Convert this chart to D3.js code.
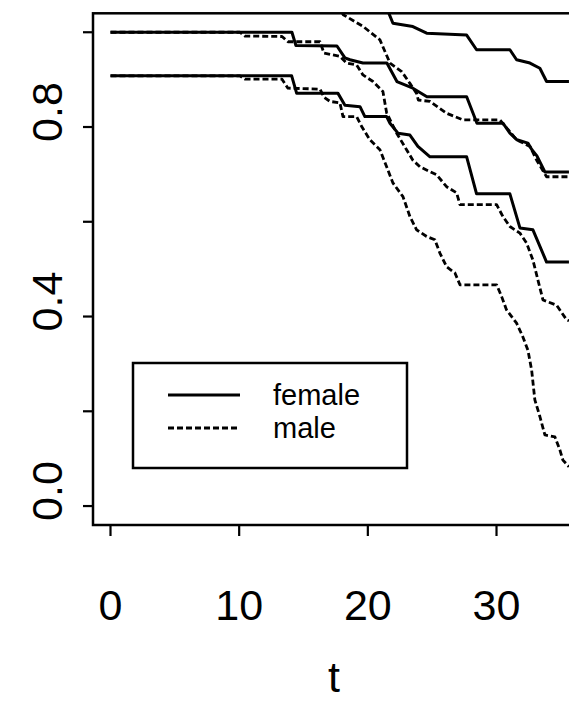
<!DOCTYPE html>
<html>
<head>
<meta charset="utf-8">
<script src="https://cdn.jsdelivr.net/npm/d3@7/dist/d3.min.js"></script>
<style>
  body { margin: 0; background: #fff; }
  svg { display: block; font-family: "Liberation Sans", Arial, Helvetica, sans-serif; }
</style>
</head>
<body>
<div id="chart"></div>
<script>
(function () {
    'use strict';

    // time axis and survival axis
    var tTicks = [0, 10, 20, 30];
    var sTicks = [0, 0.2, 0.4, 0.6, 0.8, 1.0];
    var sTickLabels = ['0.0', '', '0.4', '', '0.8', ''];
    var legendLabels = ['female', 'male'];

    // female: estimate, lower band, upper band (solid)
    var femaleEstT = [0, 14.10, 14.41, 17.60, 18.22, 18.61, 19.62, 21.48, 22.26, 23.50, 24.59, 27.68, 28.48, 30.50, 31.04, 31.59, 32.44, 32.75, 33.14, 33.76, 35.63];
    var femaleEstS = [1.0, 1.0, 0.972, 0.971, 0.946, 0.942, 0.935, 0.935, 0.896, 0.882, 0.864, 0.864, 0.808, 0.808, 0.787, 0.773, 0.766, 0.752, 0.739, 0.705, 0.705];

    var femaleLowT = [0, 14.08, 14.47, 17.68, 18.22, 19.39, 19.77, 21.46, 21.72, 22.34, 23.27, 23.89, 24.83, 27.68, 28.45, 31.04, 31.82, 32.83, 33.89, 35.63];
    var femaleLowS = [0.908, 0.908, 0.871, 0.871, 0.846, 0.843, 0.822, 0.822, 0.808, 0.787, 0.783, 0.759, 0.737, 0.737, 0.659, 0.659, 0.587, 0.583, 0.515, 0.515];

    var femaleUpT = [21.33, 21.59, 21.95, 23.50, 24.57, 27.68, 28.45, 31.04, 31.56, 32.60, 33.37, 33.89, 35.63];
    var femaleUpS = [1.058, 1.043, 1.019, 1.012, 0.998, 0.994, 0.963, 0.963, 0.942, 0.935, 0.924, 0.896, 0.896];

    // male: estimate, lower band, upper band (dashed)
    var maleEstT = [0, 10.06, 10.45, 13.33, 13.79, 16.28, 16.59, 17.83, 18.35, 19.13, 19.62, 20.40, 21.17, 21.46, 22.24, 23.01, 23.50, 24.05, 25.35, 26.12, 26.90, 27.16, 30.01, 30.50, 31.04, 31.82, 32.34, 32.83, 33.22, 33.61, 34.67, 35.45, 35.63];
    var maleEstS = [1.0, 1.0, 0.992, 0.991, 0.980, 0.980, 0.956, 0.949, 0.935, 0.931, 0.910, 0.896, 0.875, 0.830, 0.787, 0.752, 0.730, 0.716, 0.699, 0.674, 0.661, 0.636, 0.636, 0.611, 0.590, 0.576, 0.555, 0.519, 0.477, 0.435, 0.424, 0.393, 0.391];

    var maleLowT = [0, 10.06, 10.45, 13.33, 13.79, 16.28, 16.59, 17.06, 17.83, 18.07, 19.13, 19.52, 20.16, 20.94, 21.46, 21.95, 22.73, 23.27, 23.79, 24.57, 25.21, 25.60, 26.12, 26.77, 27.16, 30.01, 30.40, 30.78, 31.56, 32.05, 32.44, 32.73, 32.98, 33.37, 33.76, 34.54, 34.93, 35.16, 35.63];
    var maleLowS = [0.908, 0.908, 0.901, 0.901, 0.882, 0.880, 0.863, 0.854, 0.851, 0.822, 0.822, 0.801, 0.773, 0.752, 0.716, 0.682, 0.653, 0.611, 0.583, 0.569, 0.562, 0.534, 0.505, 0.492, 0.467, 0.467, 0.442, 0.414, 0.386, 0.357, 0.329, 0.287, 0.224, 0.189, 0.150, 0.146, 0.118, 0.097, 0.083];

    var maleUpT = [17.68, 18.09, 19.64, 20.94, 21.72, 22.63, 23.27, 23.79, 23.92, 24.83, 26.12, 27.41, 30.26, 31.04, 31.56, 32.60, 33.12, 33.89, 35.63];
    var maleUpS = [1.058, 1.037, 1.012, 0.984, 0.935, 0.917, 0.892, 0.871, 0.857, 0.854, 0.829, 0.815, 0.815, 0.790, 0.773, 0.759, 0.730, 0.695, 0.695];

    var width = 569;
    var height = 703;

    // plot region (R style, 4% extension on both axes)
    var box = { left: 93, right: 575, top: 13.3, bottom: 525 };

    var x = d3.scaleLinear()
        .domain([-1.36, 36.1])
        .range([box.left, box.right]);

    var y = d3.scaleLinear()
        .domain([-0.04, 1.04])
        .range([box.bottom, box.top]);

    function zipCurve(ts, ss) {
        return ts.map(function (t, i) { return [t, ss[i]]; });
    }

    var curves = [
        { sex: 'female', pts: zipCurve(femaleEstT, femaleEstS) },
        { sex: 'female', pts: zipCurve(femaleLowT, femaleLowS) },
        { sex: 'female', pts: zipCurve(femaleUpT, femaleUpS) },
        { sex: 'male', pts: zipCurve(maleEstT, maleEstS) },
        { sex: 'male', pts: zipCurve(maleLowT, maleLowS) },
        { sex: 'male', pts: zipCurve(maleUpT, maleUpS) }
    ];

    var solidWidth = 3;
    var dashWidth = 2.8;
    var dashes = '6,3';

    var svg = d3.select('#chart').append('svg')
        .attr('width', width)
        .attr('height', height);

    svg.append('defs').append('clipPath')
        .attr('id', 'plotClip')
        .append('rect')
        .attr('x', box.left)
        .attr('y', box.top)
        .attr('width', box.right - box.left)
        .attr('height', box.bottom - box.top);

    var line = d3.line()
        .x(function (d) { return x(d[0]); })
        .y(function (d) { return y(d[1]); });

    // male first so the solid female lines sit on top
    var ordered = curves.filter(function (c) { return c.sex === 'male'; })
        .concat(curves.filter(function (c) { return c.sex === 'female'; }));

    svg.append('g')
        .attr('clip-path', 'url(#plotClip)')
        .selectAll('path')
        .data(ordered).enter()
        .append('path')
        .attr('d', function (c) { return line(c.pts); })
        .attr('fill', 'none')
        .attr('stroke', '#000')
        .attr('stroke-width', function (c) { return c.sex === 'female' ? solidWidth : dashWidth; })
        .attr('stroke-dasharray', function (c) { return c.sex === 'male' ? dashes : null; })
        .attr('stroke-linejoin', 'round');

    // box
    svg.append('rect')
        .attr('x', box.left)
        .attr('y', box.top)
        .attr('width', box.right - box.left)
        .attr('height', box.bottom - box.top)
        .attr('fill', 'none')
        .attr('stroke', '#000')
        .attr('stroke-width', 2.5);

    // y axis ticks
    var yAxis = svg.append('g');
    yAxis.selectAll('line')
        .data(sTicks).enter()
        .append('line')
        .attr('x1', box.left - 10)
        .attr('x2', box.left)
        .attr('y1', function (d) { return y(d); })
        .attr('y2', function (d) { return y(d); })
        .attr('stroke', '#000')
        .attr('stroke-width', 2.2);
    yAxis.selectAll('text')
        .data(sTicks).enter()
        .append('text')
        .attr('transform', function (d) { return 'translate(62,' + (y(d) - 15) + ') rotate(-90)'; })
        .attr('text-anchor', 'middle')
        .attr('font-size', 43)
        .text(function (d, i) { return sTickLabels[i]; });

    // x axis ticks
    var xAxis = svg.append('g');
    xAxis.selectAll('line')
        .data(tTicks).enter()
        .append('line')
        .attr('x1', function (d) { return x(d); })
        .attr('x2', function (d) { return x(d); })
        .attr('y1', box.bottom)
        .attr('y2', box.bottom + 11)
        .attr('stroke', '#000')
        .attr('stroke-width', 2.2);
    xAxis.selectAll('text')
        .data(tTicks).enter()
        .append('text')
        .attr('x', function (d) { return x(d); })
        .attr('y', 620)
        .attr('text-anchor', 'middle')
        .attr('font-size', 43)
        .text(function (d) { return d; });

    svg.append('text')
        .attr('x', (box.left + box.right) / 2)
        .attr('y', 692)
        .attr('text-anchor', 'middle')
        .attr('font-size', 43)
        .text('t');

    // legend
    var legend = svg.append('g').attr('transform', 'translate(133,363)');
    legend.append('rect')
        .attr('width', 274)
        .attr('height', 105)
        .attr('fill', '#fff')
        .attr('stroke', '#000')
        .attr('stroke-width', 2.5);
    var item = legend.selectAll('.legend')
        .data(legendLabels).enter()
        .append('g')
        .attr('class', 'legend')
        .attr('transform', function (d, i) { return 'translate(0,' + (32 + i * 33) + ')'; });
    item.append('line')
        .attr('x1', 35)
        .attr('x2', 107)
        .attr('stroke', '#000')
        .attr('stroke-width', function (d) { return d === 'female' ? solidWidth : dashWidth; })
        .attr('stroke-dasharray', function (d) { return d === 'male' ? dashes : null; });
    item.append('text')
        .attr('x', 140)
        .attr('y', 10)
        .attr('font-size', 29)
        .text(function (d) { return d; });
})();
</script>
</body>
</html>
